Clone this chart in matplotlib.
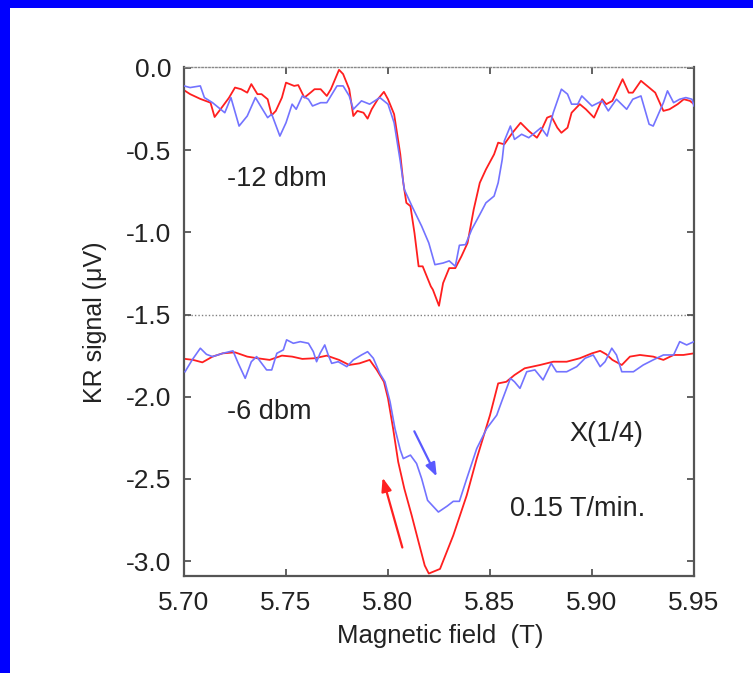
import matplotlib
matplotlib.use("Agg")
import matplotlib.pyplot as plt
from matplotlib.patches import Rectangle

plt.rcParams['font.family'] = ['Liberation Sans', 'DejaVu Sans']

# ---------------- data ----------------
red_top_x = [5.7005, 5.703, 5.708, 5.713, 5.715, 5.718, 5.722, 5.725, 5.728, 5.731, 5.733, 5.736, 5.738,
             5.741, 5.743, 5.745, 5.748, 5.750, 5.754, 5.756, 5.759, 5.762, 5.764, 5.767, 5.770, 5.772,
             5.776, 5.778, 5.781, 5.783, 5.785, 5.788, 5.790, 5.792, 5.795, 5.798, 5.800, 5.803, 5.806,
             5.8075, 5.809, 5.811, 5.813, 5.815, 5.817, 5.821, 5.822, 5.825, 5.827, 5.830, 5.833, 5.836,
             5.839, 5.842, 5.845, 5.848, 5.852, 5.854, 5.857, 5.861, 5.865, 5.869, 5.873, 5.875, 5.878,
             5.880, 5.883, 5.885, 5.888, 5.890, 5.894, 5.897, 5.901, 5.905, 5.907, 5.910, 5.915, 5.918,
             5.920, 5.924, 5.928, 5.931, 5.935, 5.938, 5.942, 5.945, 5.948, 5.950]
red_top_y = [-0.140, -0.160, -0.189, -0.212, -0.299, -0.250, -0.183, -0.120, -0.130, -0.151, -0.099, -0.160,
             -0.160, -0.191, -0.288, -0.262, -0.181, -0.090, -0.110, -0.105, -0.181, -0.151, -0.130, -0.130,
             -0.171, -0.130, -0.012, -0.038, -0.130, -0.293, -0.262, -0.273, -0.309, -0.252, -0.191, -0.146,
             -0.191, -0.282, -0.524, -0.699, -0.821, -0.841, -1.006, -1.207, -1.207, -1.329, -1.349, -1.447,
             -1.309, -1.218, -1.218, -1.146, -1.065, -0.862, -0.699, -0.618, -0.526, -0.455, -0.465, -0.395,
             -0.334, -0.384, -0.425, -0.384, -0.303, -0.293, -0.364, -0.395, -0.364, -0.273, -0.221, -0.252,
             -0.303, -0.191, -0.221, -0.201, -0.069, -0.151, -0.151, -0.079, -0.120, -0.151, -0.262, -0.252,
             -0.221, -0.191, -0.201, -0.221]

blue_top_x = [5.700, 5.703, 5.708, 5.710, 5.714, 5.720, 5.723, 5.727, 5.731, 5.735, 5.741, 5.743, 5.747,
              5.750, 5.753, 5.755, 5.758, 5.761, 5.763, 5.767, 5.770, 5.775, 5.778, 5.781, 5.783, 5.787,
              5.791, 5.796, 5.800, 5.803, 5.806, 5.808, 5.812, 5.8165, 5.820, 5.823, 5.827, 5.830, 5.833,
              5.835, 5.838, 5.841, 5.845, 5.848, 5.852, 5.854, 5.856, 5.857, 5.860, 5.862, 5.8655, 5.869,
              5.872, 5.875, 5.878, 5.881, 5.885, 5.888, 5.890, 5.893, 5.895, 5.900, 5.905, 5.908, 5.912,
              5.917, 5.920, 5.924, 5.928, 5.930, 5.935, 5.937, 5.940, 5.943, 5.946, 5.949, 5.950]
blue_top_y = [-0.110, -0.120, -0.110, -0.181, -0.212, -0.273, -0.181, -0.354, -0.293, -0.181, -0.303, -0.282,
              -0.415, -0.334, -0.221, -0.252, -0.171, -0.191, -0.232, -0.212, -0.212, -0.110, -0.110, -0.171,
              -0.252, -0.201, -0.221, -0.181, -0.221, -0.334, -0.567, -0.740, -0.848, -0.963, -1.065, -1.197,
              -1.187, -1.174, -1.207, -1.079, -1.075, -0.984, -0.892, -0.821, -0.780, -0.699, -0.557, -0.445,
              -0.354, -0.435, -0.404, -0.425, -0.395, -0.364, -0.415, -0.273, -0.130, -0.160, -0.221, -0.221,
              -0.171, -0.232, -0.201, -0.262, -0.191, -0.252, -0.191, -0.171, -0.343, -0.354, -0.212, -0.140,
              -0.212, -0.191, -0.181, -0.191, -0.232]

red_bot_x = [5.7005, 5.7045, 5.709, 5.714, 5.719, 5.725, 5.731, 5.736, 5.742, 5.748, 5.753, 5.758, 5.764,
             5.770, 5.776, 5.781, 5.786, 5.791, 5.7945, 5.798, 5.800, 5.8025, 5.805, 5.808, 5.8116, 5.815,
             5.818, 5.820, 5.8255, 5.832, 5.8386, 5.8435, 5.850, 5.854, 5.858, 5.862, 5.867, 5.8745, 5.881,
             5.8876, 5.894, 5.900, 5.904, 5.907, 5.910, 5.9146, 5.9186, 5.9235, 5.930, 5.935, 5.940, 5.9448,
             5.950]
red_bot_y = [-1.770, -1.776, -1.791, -1.756, -1.736, -1.730, -1.756, -1.766, -1.776, -1.750, -1.756, -1.770,
             -1.766, -1.750, -1.776, -1.807, -1.797, -1.776, -1.837, -1.909, -2.010, -2.193, -2.396, -2.559,
             -2.721, -2.884, -3.026, -3.075, -3.047, -2.843, -2.599, -2.376, -2.112, -1.919, -1.909, -1.868,
             -1.827, -1.807, -1.787, -1.787, -1.766, -1.736, -1.721, -1.742, -1.776, -1.807, -1.756, -1.746,
             -1.756, -1.776, -1.746, -1.746, -1.736]

blue_bot_x = [5.7005, 5.704, 5.708, 5.711, 5.714, 5.719, 5.724, 5.7266, 5.730, 5.733, 5.7356, 5.7405, 5.743,
              5.7455, 5.7487, 5.7503, 5.7536, 5.757, 5.761, 5.7634, 5.765, 5.7667, 5.769, 5.7707, 5.7724,
              5.7756, 5.7798, 5.783, 5.787, 5.790, 5.7928, 5.796, 5.7985, 5.801, 5.8034, 5.806, 5.8075,
              5.811, 5.814, 5.8165, 5.8194, 5.8247, 5.829, 5.832, 5.835, 5.8386, 5.8435, 5.8484, 5.8533,
              5.8557, 5.860, 5.862, 5.8647, 5.868, 5.872, 5.876, 5.880, 5.8826, 5.8876, 5.8925, 5.8966,
              5.9006, 5.904, 5.9064, 5.9097, 5.912, 5.9146, 5.9203, 5.9251, 5.930, 5.935, 5.940, 5.943,
              5.9464, 5.950]
blue_bot_y = [-1.848, -1.776, -1.705, -1.742, -1.756, -1.736, -1.721, -1.797, -1.888, -1.787, -1.756, -1.837,
              -1.837, -1.736, -1.715, -1.654, -1.675, -1.665, -1.675, -1.726, -1.787, -1.736, -1.685, -1.746,
              -1.797, -1.787, -1.817, -1.776, -1.746, -1.726, -1.766, -1.858, -1.909, -2.030, -2.193, -2.323,
              -2.376, -2.355, -2.406, -2.498, -2.630, -2.701, -2.665, -2.636, -2.636, -2.498, -2.315, -2.193,
              -2.112, -2.030, -1.888, -1.909, -1.949, -1.848, -1.837, -1.898, -1.797, -1.848, -1.848, -1.817,
              -1.766, -1.746, -1.817, -1.787, -1.705, -1.746, -1.848, -1.848, -1.807, -1.776, -1.746, -1.746,
              -1.665, -1.685, -1.665]

x_ticks = [5.70, 5.75, 5.80, 5.85, 5.90, 5.95]
x_tick_labels = ["5.70", "5.75", "5.80", "5.85", "5.90", "5.95"]
y_ticks = [0.0, -0.5, -1.0, -1.5, -2.0, -2.5, -3.0]
y_tick_labels = ["0.0", "-0.5", "-1.0", "-1.5", "-2.0", "-2.5", "-3.0"]

# ---------------- figure ----------------
W, H = 753, 673
fig = plt.figure(figsize=(W / 100, H / 100), dpi=100)
fig.patch.set_facecolor('white')
# blue frame (top and left bands)
fig.patches.append(Rectangle((0, 1 - 8 / H), 1, 8 / H, transform=fig.transFigure,
                             facecolor='#0000ff', edgecolor='none', zorder=0))
fig.patches.append(Rectangle((0, 0), 10 / W, 1, transform=fig.transFigure,
                             facecolor='#0000ff', edgecolor='none', zorder=0))

ax = fig.add_axes([184 / W, 1 - 576 / H, 510 / W, 509 / H])

red = '#ff1f1f'
blue = '#7373ff'
ax.plot(blue_top_x, blue_top_y, color=blue, lw=1.2, zorder=3)
ax.plot(red_top_x, red_top_y, color=red, lw=1.3, zorder=2)
ax.plot(red_bot_x, red_bot_y, color=red, lw=1.3, zorder=2)
ax.plot(blue_bot_x, blue_bot_y, color=blue, lw=1.2, zorder=3)

ax.axhline(-1.5, color='#808080', lw=1.0, ls=(0, (1, 1.5)), zorder=1)

ax.set_xlim(5.70, 5.95)
ax.set_ylim(-3.09, 0.005)
ax.set_xticks(x_ticks)
ax.set_xticklabels(x_tick_labels)
ax.set_yticks(y_ticks)
ax.set_yticklabels(y_tick_labels)

sp_col = '#555555'
for s in ['left', 'right', 'bottom']:
    ax.spines[s].set_color(sp_col)
    ax.spines[s].set_linewidth(1.6)
ax.spines['top'].set_color('#888888')
ax.spines['top'].set_linewidth(1.0)
ax.spines['top'].set_linestyle((0, (1, 1.5)))

ax.tick_params(axis='both', which='major', direction='in', length=5, width=1.3, color=sp_col,
               labelsize=19, labelcolor='#222222', top=True, right=True)
ax.tick_params(axis='x', pad=11)
ax.tick_params(axis='y', pad=9)

fig.text(95 / W, 1 - 322 / H, 'KR signal (\u03bcV)', rotation=90, ha='center', va='center',
         fontsize=18, color='#222222')
fig.text(440 / W, 1 - 636 / H, 'Magnetic field  (T)', ha='center', va='center',
         fontsize=18.5, color='#222222')

ax.text(5.721, -0.677, '-12 dbm', fontsize=19.5, va='center', ha='left', color='#222222')
ax.text(5.721, -2.09, '-6 dbm', fontsize=19.5, va='center', ha='left', color='#222222')
ax.text(5.889, -2.226, 'X(1/4)', fontsize=19.5, va='center', ha='left', color='#222222')
ax.text(5.860, -2.683, '0.15 T/min.', fontsize=19.5, va='center', ha='left', color='#222222')

ax.annotate('', xy=(5.8245, -2.50), xytext=(5.8123, -2.195),
            arrowprops=dict(arrowstyle='-|>,head_length=0.8,head_width=0.3', color='#5a5aff', lw=1.6))
ax.annotate('', xy=(5.797, -2.476), xytext=(5.8074, -2.933),
            arrowprops=dict(arrowstyle='-|>,head_length=0.8,head_width=0.3', color='#ff2020', lw=1.6))

fig.savefig('out.png', dpi=100)
